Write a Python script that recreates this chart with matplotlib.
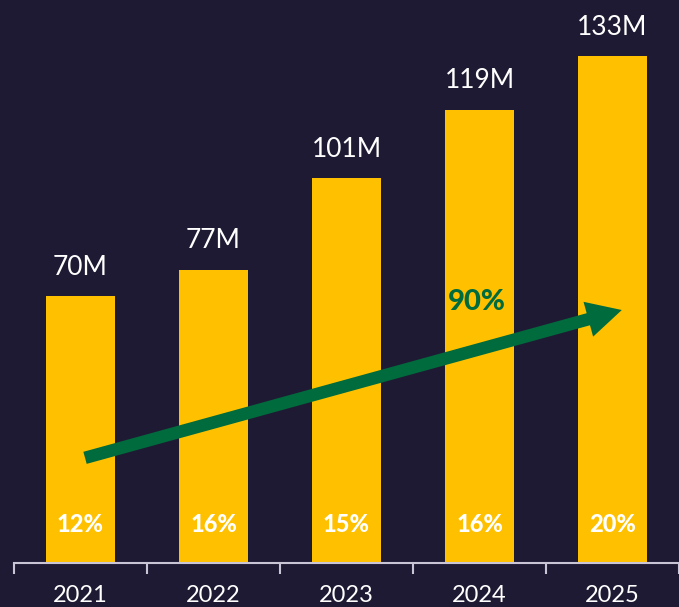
import matplotlib.pyplot as plt

years = ['2021', '2022', '2023', '2024', '2025']
users = [70, 77, 101, 119, 133]
value_labels = ['70M', '77M', '101M', '119M', '133M']
share_labels = ['12%', '16%', '15%', '16%', '20%']
growth_label = '90%'

bg = '#1f1a33'
yellow = '#ffc000'
green = '#006b3c'

plt.rcParams['font.family'] = ['Lato', 'DejaVu Sans']

fig = plt.figure(figsize=(6.79, 6.07), dpi=100, facecolor=bg)
ax = fig.add_axes([14 / 679, 44 / 607, 665 / 679, 563 / 607])
ax.set_facecolor(bg)

x = range(len(years))
ax.bar(x, users, width=0.52, color=yellow, zorder=2)

for i, v in enumerate(users):
    ax.text(i, v + 4.3, value_labels[i], ha='center', va='bottom',
            color='white', fontsize=19)
    ax.text(i, 10.2, share_labels[i], ha='center', va='center',
            color='white', fontsize=17, fontweight='black')

# growth arrow, drawn in display units so the head keeps its shape
ax.annotate('', xy=(4.07, 66.4), xytext=(0.034, 27.6),
            arrowprops=dict(arrowstyle='simple,head_width=2.6,head_length=2.5,tail_width=0.9',
                            mutation_scale=10, color=green, lw=0,
                            shrinkA=0, shrinkB=0), zorder=3)
ax.text(2.98, 68.5, growth_label, ha='center', va='center', color=green,
        fontsize=21, fontweight='black', zorder=4)

ax.set_xlim(-0.5, 4.5)
ax.set_ylim(0, 563 / 3.81)
ax.set_xticks([i - 0.5 for i in range(len(years) + 1)])
ax.set_xticklabels([])
ax.set_xticks(list(x), minor=True)
ax.set_xticklabels(years, minor=True)
ax.tick_params(axis='x', which='major', direction='out', length=8,
               width=1.5, color='#c9c5d6')
ax.tick_params(axis='x', which='minor', length=0, pad=16,
               labelcolor='white', labelsize=17)
ax.set_yticks([])
for s in ['top', 'right', 'left']:
    ax.spines[s].set_visible(False)
ax.spines['bottom'].set_color('#c9c5d6')
ax.spines['bottom'].set_linewidth(1.5)

fig.savefig('out.png', dpi=100, facecolor=bg)
